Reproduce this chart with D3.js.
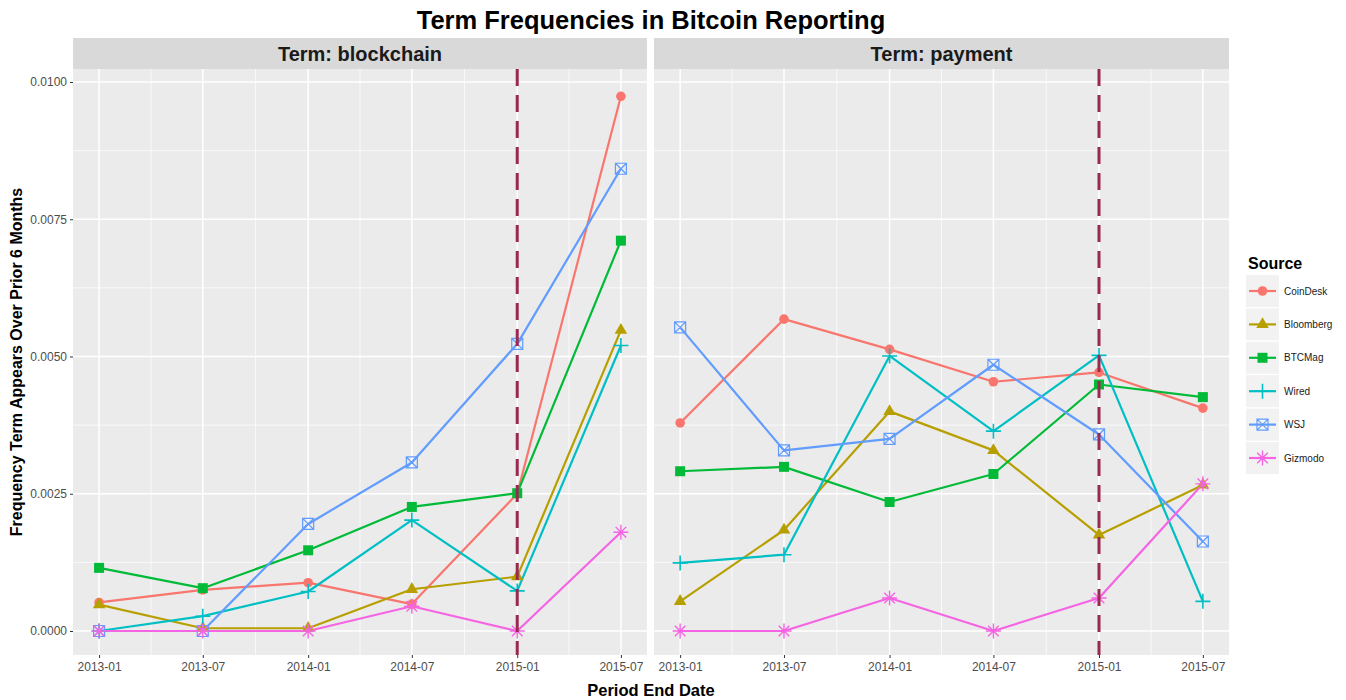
<!DOCTYPE html>
<html>
<head>
<meta charset="utf-8">
<script src="https://cdn.jsdelivr.net/npm/d3@7"></script>
<style>
  html, body { margin: 0; padding: 0; background: #fff; }
  svg { display: block; font-family: "Liberation Sans", Arial, sans-serif; }
</style>
</head>
<body>
<svg id="chart" width="1346" height="700"></svg>
<script>
// ---------------- data ----------------
const periods = ["2013-01", "2013-07", "2014-01", "2014-07", "2015-01", "2015-07"];
const terms = ["blockchain", "payment"];
const sources = ["CoinDesk", "Bloomberg", "BTCMag", "Wired", "WSJ", "Gizmodo"];
const colors = ["#F8766D", "#B79F00", "#00BA38", "#00BFC4", "#619CFF", "#F564E3"];
const shapes = ["circle", "triangle", "square", "plus", "squarecross", "asterisk"];
const yTicks = [0, 0.0025, 0.005, 0.0075, 0.01];
const yTickLabels = ["0.0000", "0.0025", "0.0050", "0.0075", "0.0100"];
const markerPeriod = "2015-01";

// blockchain term frequencies
const blockchainCoinDesk  = [0.00052, 0.00075, 0.00088, 0.00049, 0.00250, 0.00974];
const blockchainBloomberg = [0.00048, 0.00005, 0.00005, 0.00076, 0.00099, 0.00548];
const blockchainBTCMag    = [0.00115, 0.00078, 0.00147, 0.00226, 0.00251, 0.00711];
const blockchainWired     = [0.00000, 0.00027, 0.00072, 0.00202, 0.00073, 0.00520];
const blockchainWSJ       = [0.00000, 0.00000, 0.00195, 0.00307, 0.00523, 0.00842];
const blockchainGizmodo   = [0.00000, 0.00000, 0.00000, 0.00045, 0.00000, 0.00180];

// payment term frequencies
const paymentCoinDesk  = [0.00379, 0.00568, 0.00513, 0.00454, 0.00471, 0.00406];
const paymentBloomberg = [0.00054, 0.00184, 0.00400, 0.00329, 0.00175, 0.00266];
const paymentBTCMag    = [0.00291, 0.00299, 0.00235, 0.00286, 0.00449, 0.00426];
const paymentWired     = [0.00124, 0.00139, 0.00501, 0.00364, 0.00502, 0.00054];
const paymentWSJ       = [0.00553, 0.00329, 0.00350, 0.00485, 0.00358, 0.00163];
const paymentGizmodo   = [0.00000, 0.00000, 0.00060, 0.00000, 0.00060, 0.00268];

const seriesByTerm = {
  blockchain: [blockchainCoinDesk, blockchainBloomberg, blockchainBTCMag, blockchainWired, blockchainWSJ, blockchainGizmodo],
  payment: [paymentCoinDesk, paymentBloomberg, paymentBTCMag, paymentWired, paymentWSJ, paymentGizmodo]
};

// ---------------- layout ----------------
const svg = d3.select("#chart");
const parse = d3.timeParse("%Y-%m");
const dates = periods.map(parse);

const panelTop = 69, panelBottom = 655;
const stripTop = 38;
const panels = [
  { term: "blockchain", x0: 73, x1: 647 },
  { term: "payment", x0: 654, x1: 1229 }
];

const y = d3.scaleLinear().domain([0, 0.01]).range([631, 82]);
const gridCol = "#FFFFFF";
const textGrey = "#4D4D4D";

function drawShape(g, shape, cx, cy, color) {
  const gg = g.append("g").attr("transform", `translate(${cx},${cy})`);
  if (shape === "circle") {
    gg.append("path").attr("d", d3.symbol(d3.symbolCircle, Math.PI * 4.8 * 4.8)()).attr("fill", color);
  } else if (shape === "square") {
    gg.append("path").attr("d", d3.symbol(d3.symbolSquare, 10 * 10)()).attr("fill", color);
  } else if (shape === "triangle") {
    gg.append("path").attr("d", d3.symbol(d3.symbolTriangle, 68)()).attr("fill", color);
  } else if (shape === "plus") {
    const a = 7.5;
    gg.append("path").attr("d", `M${-a},0H${a}M0,${-a}V${a}`)
      .attr("stroke", color).attr("stroke-width", 1.6).attr("fill", "none");
  } else if (shape === "asterisk") {
    const a = 7.5, b = 5.3;
    gg.append("path").attr("d", `M${-a},0H${a}M0,${-a}V${a}M${-b},${-b}L${b},${b}M${-b},${b}L${b},${-b}`)
      .attr("stroke", color).attr("stroke-width", 1.4).attr("fill", "none");
  } else if (shape === "squarecross") {
    const a = 5.5;
    gg.append("path").attr("d", `M${-a},${-a}H${a}V${a}H${-a}Z M${-a},${-a}L${a},${a}M${-a},${a}L${a},${-a}`)
      .attr("stroke", color).attr("stroke-width", 1.2).attr("fill", "none");
  }
}

panels.forEach(p => {
  const pad = (p.x1 - p.x0) / 1.1 * 0.05;
  const x = d3.scaleTime().domain(d3.extent(dates)).range([p.x0 + pad, p.x1 - pad]);
  const g = svg.append("g");

  // strip
  g.append("rect").attr("x", p.x0).attr("y", stripTop).attr("width", p.x1 - p.x0)
    .attr("height", panelTop - stripTop).attr("fill", "#D9D9D9");
  g.append("text").attr("x", (p.x0 + p.x1) / 2).attr("y", (stripTop + panelTop) / 2 + 7)
    .attr("text-anchor", "middle").attr("font-size", 20).attr("font-weight", "bold")
    .attr("fill", "#1A1A1A").text("Term: " + p.term);

  // panel bg
  g.append("rect").attr("x", p.x0).attr("y", panelTop).attr("width", p.x1 - p.x0)
    .attr("height", panelBottom - panelTop).attr("fill", "#EBEBEB");

  // minor grid
  const minorY = yTicks.slice(0, -1).map((t, i) => (t + yTicks[i + 1]) / 2);
  g.selectAll(".minY").data(minorY).enter().append("line")
    .attr("x1", p.x0).attr("x2", p.x1).attr("y1", d => y(d)).attr("y2", d => y(d))
    .attr("stroke", gridCol).attr("stroke-width", 0.7);
  const minorX = dates.slice(0, -1).map((d, i) => new Date((d.getTime() + dates[i + 1].getTime()) / 2));
  g.selectAll(".minX").data(minorX).enter().append("line")
    .attr("y1", panelTop).attr("y2", panelBottom).attr("x1", d => x(d)).attr("x2", d => x(d))
    .attr("stroke", gridCol).attr("stroke-width", 0.7);

  // major grid
  g.selectAll(".majY").data(yTicks).enter().append("line")
    .attr("x1", p.x0).attr("x2", p.x1).attr("y1", d => y(d)).attr("y2", d => y(d))
    .attr("stroke", gridCol).attr("stroke-width", 1.5);
  g.selectAll(".majX").data(dates).enter().append("line")
    .attr("y1", panelTop).attr("y2", panelBottom).attr("x1", d => x(d)).attr("x2", d => x(d))
    .attr("stroke", gridCol).attr("stroke-width", 1.5);

  // x axis
  const xAxis = d3.axisBottom(x).tickValues(dates).tickFormat(d3.timeFormat("%Y-%m")).tickSize(3).tickPadding(4);
  const xa = g.append("g").attr("transform", `translate(0,${panelBottom})`).call(xAxis);
  xa.select(".domain").remove();
  xa.selectAll(".tick line").attr("stroke", "#333").attr("stroke-width", 1);
  xa.selectAll("text").attr("font-size", 12).attr("fill", textGrey)
    .attr("font-family", "Liberation Sans, Arial, sans-serif");

  // y axis on first panel
  if (p.term === "blockchain") {
    const yAxis = d3.axisLeft(y).tickValues(yTicks).tickFormat((d, i) => yTickLabels[i]).tickSize(3).tickPadding(3);
    const ya = g.append("g").attr("transform", `translate(${p.x0},0)`).call(yAxis);
    ya.select(".domain").remove();
    ya.selectAll(".tick line").attr("stroke", "#333");
    ya.selectAll("text").attr("font-size", 12).attr("fill", textGrey)
      .attr("font-family", "Liberation Sans, Arial, sans-serif");
  }

  // lines
  const line = d3.line().x((d, i) => x(dates[i])).y(d => y(d));
  const series = seriesByTerm[p.term];
  series.forEach((vals, si) => {
    g.append("path").attr("d", line(vals)).attr("fill", "none")
      .attr("stroke", colors[si]).attr("stroke-width", 2.2).attr("stroke-linejoin", "round");
  });
  // points
  series.forEach((vals, si) => {
    vals.forEach((v, i) => drawShape(g, shapes[si], x(dates[i]), y(v), colors[si]));
  });

  // vertical marker
  const mx = x(parse(markerPeriod));
  g.append("line").attr("x1", mx).attr("x2", mx).attr("y1", panelTop).attr("y2", panelBottom)
    .attr("stroke", "#99294F").attr("stroke-width", 3).attr("stroke-dasharray", "17,9");
});

// title
svg.append("text").attr("x", 651).attr("y", 29).attr("text-anchor", "middle")
  .attr("font-size", 25.5).attr("font-weight", "bold").attr("fill", "#000")
  .text("Term Frequencies in Bitcoin Reporting");

// axis titles
svg.append("text").attr("x", 651).attr("y", 696).attr("text-anchor", "middle")
  .attr("font-size", 16.5).attr("font-weight", "bold").attr("fill", "#000")
  .text("Period End Date");
svg.append("text").attr("transform", `translate(22,${(panelTop + panelBottom) / 2}) rotate(-90)`)
  .attr("text-anchor", "middle").attr("font-size", 16).attr("font-weight", "bold").attr("fill", "#000")
  .text("Frequency Term Appears Over Prior 6 Months");

// legend
const lg = svg.append("g").attr("transform", "translate(1246,0)");
lg.append("text").attr("x", 2).attr("y", 269).attr("font-size", 16).attr("font-weight", "bold")
  .attr("fill", "#000").text("Source");
sources.forEach((s, i) => {
  const cy = 291 + i * 33.4;
  lg.append("rect").attr("x", 0).attr("y", cy - 16).attr("width", 33).attr("height", 32).attr("fill", "#F2F2F2");
  lg.append("line").attr("x1", 3).attr("x2", 30).attr("y1", cy).attr("y2", cy)
    .attr("stroke", colors[i]).attr("stroke-width", 2.2);
  drawShape(lg, shapes[i], 16.5, cy, colors[i]);
  lg.append("text").attr("x", 38).attr("y", cy + 3.5).attr("font-size", 10).attr("fill", "#1A1A1A").text(s);
});
</script>
</body>
</html>
